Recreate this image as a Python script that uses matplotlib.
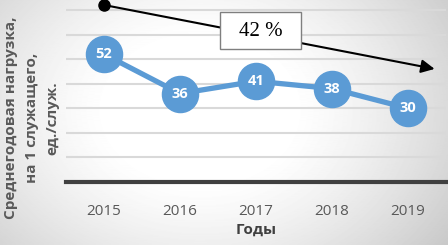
import matplotlib.pyplot as plt
from matplotlib.patches import Rectangle
import numpy as np

years = ['2015', '2016', '2017', '2018', '2019']
load = [52, 36, 41, 38, 30]
trend_start = 72
trend_end = 46
trend_label = '42 %'

plt.rcParams['font.family'] = ['Open Sans', 'DejaVu Sans']

fig = plt.figure(figsize=(4.48, 2.45), dpi=100)

# background gradient, white in the middle, gray at the edges
bg = fig.add_axes([0, 0, 1, 1], zorder=-2)
yy, xx = np.mgrid[0:245, 0:448]
r = np.sqrt(((xx - 200) / 260.0) ** 2 + ((yy - 110) / 200.0) ** 2)
shade = 1 - 0.28 * np.clip(r - 0.35, 0, None) ** 1.3
bg.imshow(shade, cmap='gray', vmin=0, vmax=1, aspect='auto')
bg.axis('off')

ax = fig.add_axes([66 / 448, 1 - 182 / 245, 380 / 448, 177 / 245])
ax.patch.set_alpha(0)
x = np.arange(len(years))

ax.set_xlim(-0.5, 4.5)
ax.set_ylim(0, 72)
ax.set_yticks(range(10, 71, 10))
ax.yaxis.grid(True, color='#d9d9d9', lw=1.5)
ax.set_axisbelow(True)
ax.tick_params(axis='y', left=False, labelleft=False)
ax.tick_params(axis='x', bottom=False, labelsize=11, labelcolor='#595959', pad=12)
ax.set_xticks(x)
ax.set_xticklabels(years)
for s in ['top', 'right', 'left']:
    ax.spines[s].set_visible(False)
ax.spines['bottom'].set_color('#404040')
ax.spines['bottom'].set_linewidth(3)

ax.plot(x, load, color='#5b9bd5', lw=3.8, marker='o', ms=26, zorder=3)
for xi, v in zip(x, load):
    ax.text(xi, v, str(v), color='white', fontsize=10.5, fontweight='bold',
            ha='center', va='center', zorder=4)

# trend arrow with percent box
ax.annotate('', xy=(4.35, trend_end), xytext=(0, trend_start),
            arrowprops=dict(arrowstyle='-|>', color='black', lw=1.5,
                            mutation_scale=20, shrinkA=0, shrinkB=0),
            annotation_clip=False, zorder=5)
ax.plot([0], [trend_start], 'o', color='black', ms=8, clip_on=False, zorder=6)
ax.add_patch(Rectangle((1.53, 54.1), 1.06, 15.1, fc='white', ec='#7f7f7f',
                       lw=1, zorder=7))
ax.text(2.06, 61.4, trend_label, family='Liberation Serif', fontsize=15,
        ha='center', va='center', zorder=8)

ax.set_xlabel('Годы', fontsize=11, fontweight='bold', color='#404040', labelpad=3)
fig.text(32 / 448, 1 - 118 / 245,
         'Среднегодовая нагрузка,\nна 1 служащего,\nед./служ.',
         rotation=90, ha='center', va='center', fontsize=11, fontweight='bold',
         color='#595959', linespacing=1.6)

fig.savefig('out.png', dpi=100)
